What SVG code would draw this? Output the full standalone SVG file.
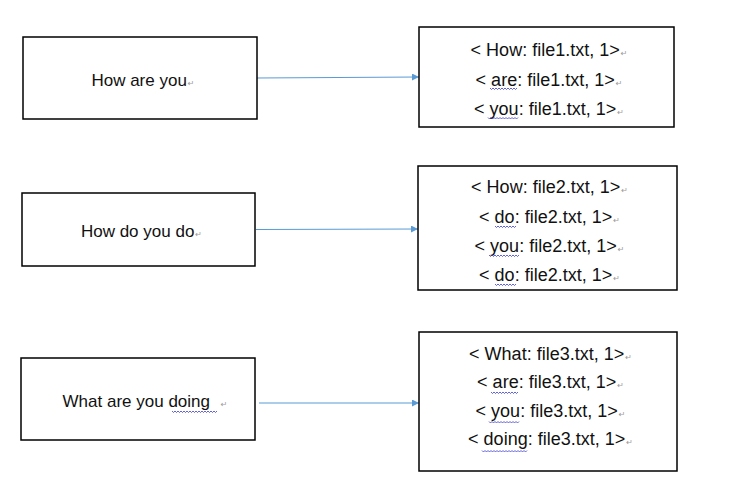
<svg xmlns="http://www.w3.org/2000/svg" width="733" height="500" viewBox="0 0 733 500">
<defs>
<style>
.box{fill:#fff;stroke:#000;stroke-width:1.5}
.t{font-family:"Liberation Sans",Arial,sans-serif;fill:#111;text-anchor:middle}
.l{font-size:17px}
.r{font-size:18px}
.pm{font-family:"DejaVu Sans",sans-serif;font-size:8px;fill:#9a9a9a}
.conn{stroke:#5b9bd5;stroke-width:1.2;fill:none;marker-end:url(#ah)}
.wavy{stroke:#3a3ad0;stroke-width:0.8;fill:none}
</style>
<marker id="ah" viewBox="0 0 10 10" refX="10" refY="5" markerWidth="8" markerHeight="7" markerUnits="userSpaceOnUse" orient="auto">
<path d="M0 0 L10 5 L0 10 z" fill="#5b9bd5"/>
</marker>
</defs>
<rect width="733" height="500" fill="#fff"/>

<g id="connectors">
<line class="conn" x1="256" y1="78" x2="419" y2="77"/>
<line class="conn" x1="256" y1="229.5" x2="418" y2="229"/>
<line class="conn" x1="259" y1="403" x2="419" y2="403"/>
</g>

<g id="src1">
<rect class="box" x="23" y="37" width="234" height="82"/>
<text class="t l" x="143" y="86">How are you<tspan class="pm" dx="1">↵</tspan></text>
</g>
<g id="src2">
<rect class="box" x="22" y="193" width="233" height="73"/>
<text class="t l" x="141.5" y="237">How do you do<tspan class="pm" dx="1">↵</tspan></text>
</g>
<g id="src3">
<rect class="box" x="21" y="358" width="234" height="82"/>
<text class="t l" x="145" y="407">What are you doing  <tspan class="pm" dx="6">↵</tspan></text>
<path class="wavy" d="M172 411 l1.5 1.5 l1.5 -1.5 l1.5 1.5 l1.5 -1.5 l1.5 1.5 l1.5 -1.5 l1.5 1.5 l1.5 -1.5 l1.5 1.5 l1.5 -1.5 l1.5 1.5 l1.5 -1.5 l1.5 1.5 l1.5 -1.5 l1.5 1.5 l1.5 -1.5 l1.5 1.5 l1.5 -1.5 l1.5 1.5 l1.5 -1.5 l1.5 1.5 l1.5 -1.5 l1.5 1.5 l1.5 -1.5 l1.5 1.5 l1.5 -1.5 l1.5 1.5 l1.5 -1.5 l1.5 1.5 l1.5 -1.5"/>
</g>

<g id="out1">
<rect class="box" x="419" y="27" width="255" height="100"/>
<text class="t r" x="549" y="56">&lt; How: file1.txt, 1&gt;<tspan class="pm" dx="1">↵</tspan></text>
<text class="t r" x="549" y="86">&lt; are: file1.txt, 1&gt;<tspan class="pm" dx="1">↵</tspan></text>
<text class="t r" x="549" y="115">&lt; you: file1.txt, 1&gt;<tspan class="pm" dx="1">↵</tspan></text>
<path class="wavy" d="M490 88 l1.5 1.5 l1.5 -1.5 l1.5 1.5 l1.5 -1.5 l1.5 1.5 l1.5 -1.5 l1.5 1.5 l1.5 -1.5 l1.5 1.5 l1.5 -1.5 l1.5 1.5 l1.5 -1.5 l1.5 1.5 l1.5 -1.5 l1.5 1.5 l1.5 -1.5 l1.5 1.5 l1.5 -1.5"/>
<path class="wavy" d="M488 117.5 l1.5 1.5 l1.5 -1.5 l1.5 1.5 l1.5 -1.5 l1.5 1.5 l1.5 -1.5 l1.5 1.5 l1.5 -1.5 l1.5 1.5 l1.5 -1.5 l1.5 1.5 l1.5 -1.5 l1.5 1.5 l1.5 -1.5 l1.5 1.5 l1.5 -1.5 l1.5 1.5 l1.5 -1.5 l1.5 1.5 l1.5 -1.5"/>
</g>

<g id="out2">
<rect class="box" x="418" y="166" width="259" height="124"/>
<text class="t r" x="549.5" y="193">&lt; How: file2.txt, 1&gt;<tspan class="pm" dx="1">↵</tspan></text>
<text class="t r" x="549.5" y="223">&lt; do: file2.txt, 1&gt;<tspan class="pm" dx="1">↵</tspan></text>
<text class="t r" x="549.5" y="252">&lt; you: file2.txt, 1&gt;<tspan class="pm" dx="1">↵</tspan></text>
<text class="t r" x="549.5" y="281">&lt; do: file2.txt, 1&gt;<tspan class="pm" dx="1">↵</tspan></text>
<path class="wavy" d="M495 226 l1.5 1.5 l1.5 -1.5 l1.5 1.5 l1.5 -1.5 l1.5 1.5 l1.5 -1.5 l1.5 1.5 l1.5 -1.5 l1.5 1.5 l1.5 -1.5 l1.5 1.5 l1.5 -1.5 l1.5 1.5 l1.5 -1.5"/>
<path class="wavy" d="M489 255 l1.5 1.5 l1.5 -1.5 l1.5 1.5 l1.5 -1.5 l1.5 1.5 l1.5 -1.5 l1.5 1.5 l1.5 -1.5 l1.5 1.5 l1.5 -1.5 l1.5 1.5 l1.5 -1.5 l1.5 1.5 l1.5 -1.5 l1.5 1.5 l1.5 -1.5 l1.5 1.5 l1.5 -1.5 l1.5 1.5 l1.5 -1.5"/>
<path class="wavy" d="M495 284 l1.5 1.5 l1.5 -1.5 l1.5 1.5 l1.5 -1.5 l1.5 1.5 l1.5 -1.5 l1.5 1.5 l1.5 -1.5 l1.5 1.5 l1.5 -1.5 l1.5 1.5 l1.5 -1.5 l1.5 1.5 l1.5 -1.5"/>
</g>

<g id="out3">
<rect class="box" x="419" y="332" width="258" height="139"/>
<text class="t r" x="550.5" y="360">&lt; What: file3.txt, 1&gt;<tspan class="pm" dx="1">↵</tspan></text>
<text class="t r" x="550.5" y="388">&lt; are: file3.txt, 1&gt;<tspan class="pm" dx="1">↵</tspan></text>
<text class="t r" x="550.5" y="417">&lt; you: file3.txt, 1&gt;<tspan class="pm" dx="1">↵</tspan></text>
<text class="t r" x="550.5" y="445">&lt; doing: file3.txt, 1&gt;<tspan class="pm" dx="1">↵</tspan></text>
<path class="wavy" d="M491 392 l1.5 1.5 l1.5 -1.5 l1.5 1.5 l1.5 -1.5 l1.5 1.5 l1.5 -1.5 l1.5 1.5 l1.5 -1.5 l1.5 1.5 l1.5 -1.5 l1.5 1.5 l1.5 -1.5 l1.5 1.5 l1.5 -1.5 l1.5 1.5 l1.5 -1.5 l1.5 1.5 l1.5 -1.5"/>
<path class="wavy" d="M489 421.5 l1.5 1.5 l1.5 -1.5 l1.5 1.5 l1.5 -1.5 l1.5 1.5 l1.5 -1.5 l1.5 1.5 l1.5 -1.5 l1.5 1.5 l1.5 -1.5 l1.5 1.5 l1.5 -1.5 l1.5 1.5 l1.5 -1.5 l1.5 1.5 l1.5 -1.5 l1.5 1.5 l1.5 -1.5 l1.5 1.5 l1.5 -1.5"/>
<path class="wavy" d="M482 450.5 l1.5 1.5 l1.5 -1.5 l1.5 1.5 l1.5 -1.5 l1.5 1.5 l1.5 -1.5 l1.5 1.5 l1.5 -1.5 l1.5 1.5 l1.5 -1.5 l1.5 1.5 l1.5 -1.5 l1.5 1.5 l1.5 -1.5 l1.5 1.5 l1.5 -1.5 l1.5 1.5 l1.5 -1.5 l1.5 1.5 l1.5 -1.5 l1.5 1.5 l1.5 -1.5 l1.5 1.5 l1.5 -1.5 l1.5 1.5 l1.5 -1.5 l1.5 1.5 l1.5 -1.5 l1.5 1.5 l1.5 -1.5"/>
</g>
</svg>
